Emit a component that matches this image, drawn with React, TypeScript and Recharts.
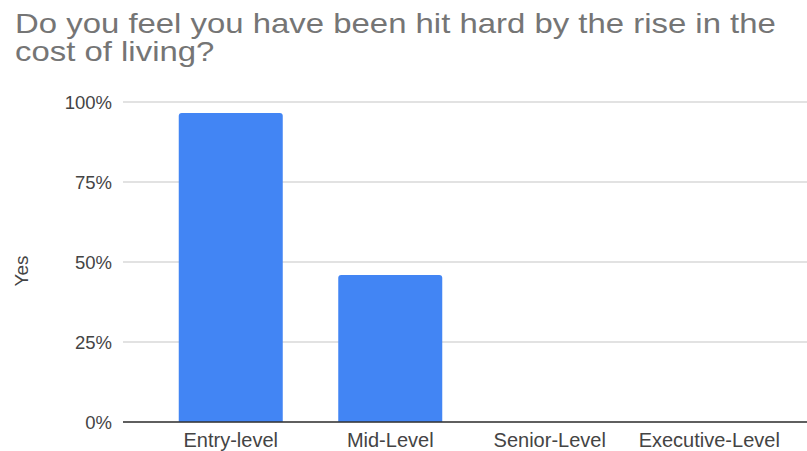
import React from "react";
import { Bar, BarChart, CartesianGrid, XAxis, YAxis } from "recharts";

const categories = ["Entry-level", "Mid-Level", "Senior-Level", "Executive-Level"];
const yesShare = [0.966, 0.459, 0, 0];
const yTicks = [0, 0.25, 0.5, 0.75, 1];

const data = categories.map((level, i) => ({ level, yes: yesShare[i] }));

const FONT = '"Liberation Sans", Arial, sans-serif';

export default function App() {
  return (
    <div
      style={{
        position: "absolute",
        left: 0,
        top: 0,
        width: 807,
        height: 451,
        background: "#fff",
        fontFamily: FONT,
        overflow: "hidden",
      }}
    >
      <div
        style={{
          position: "absolute",
          left: 15,
          top: 9.6,
          fontSize: 28,
          lineHeight: "28.4px",
          color: "#757575",
          whiteSpace: "nowrap",
          transform: "scaleX(1.175)",
          transformOrigin: "left top",
        }}
      >
        Do you feel you have been hit hard by the rise in the
        <br />
        cost of living?
      </div>
      <BarChart
        width={807}
        height={451}
        data={data}
        margin={{ top: 102, right: 0, bottom: 0, left: 0 }}
        barCategoryGap="17.4%"
      >
        <CartesianGrid vertical={false} stroke="#d9d9d9" strokeWidth={1.5} />
        <XAxis
          dataKey="level"
          height={29}
          padding={{ left: 28, right: 18 }}
          axisLine={{ stroke: "#333", strokeWidth: 1.5 }}
          tickLine={false}
          tickSize={0}
          tickMargin={11}
          interval={0}
          tick={{ fontSize: 20, fill: "#444", fontFamily: FONT }}
        />
        <YAxis
          width={123}
          domain={[0, 1]}
          ticks={yTicks}
          axisLine={false}
          tickLine={false}
          tickSize={0}
          tickMargin={11}
          tickFormatter={(v: number) => `${Math.round(v * 100)}%`}
          tick={{ fontSize: 18.5, fill: "#444", fontFamily: FONT }}
          label={{
            content: ({ viewBox }: any) => {
              const cy = viewBox.y + viewBox.height / 2 + 9;
              return (
                <text
                  x={28}
                  y={cy}
                  transform={`rotate(-90 28 ${cy})`}
                  textAnchor="middle"
                  fontSize={19}
                  fill="#444"
                  fontFamily={FONT}
                >
                  Yes
                </text>
              );
            },
          }}
        />
        <Bar
          dataKey="yes"
          fill="#4285f4"
          radius={[3, 3, 0, 0]}
          isAnimationActive={false}
        />
      </BarChart>
    </div>
  );
}
